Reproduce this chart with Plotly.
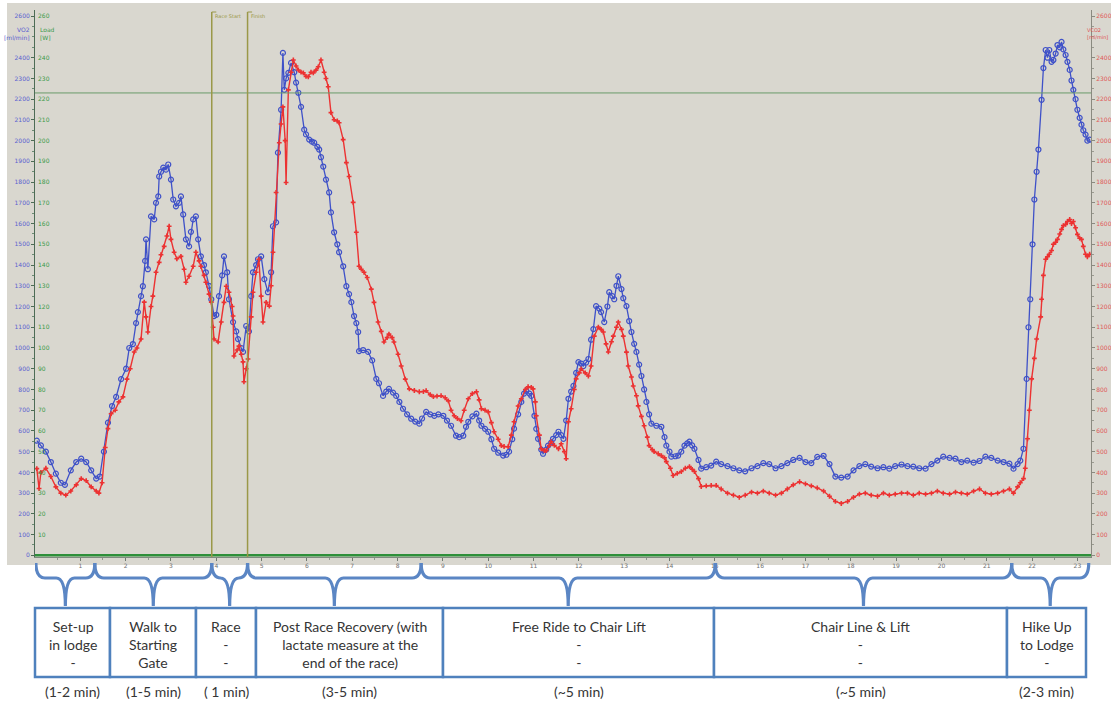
import plotly.graph_objects as go

# ---- breath-by-breath gas exchange during one ski-race session ----
# time in minutes, VO2 / VCO2 in ml/min
vo2_t = [0.04, 0.13, 0.24, 0.35, 0.46, 0.57, 0.66, 0.79, 0.91, 1.02, 1.13, 1.24, 1.35, 1.43, 1.52, 1.61, 1.70, 1.79,
         1.90, 2.01, 2.08, 2.16, 2.23, 2.27, 2.34, 2.38, 2.43, 2.45, 2.49, 2.56, 2.63, 2.67, 2.72, 2.74, 2.78, 2.83,
         2.89, 2.94, 3.00, 3.05, 3.11, 3.18, 3.22, 3.27, 3.33, 3.40, 3.44, 3.49, 3.55, 3.60, 3.66, 3.73, 3.77, 3.84,
         3.89, 3.95, 4.00, 4.06, 4.13, 4.17, 4.24, 4.28, 4.37, 4.44, 4.48, 4.55, 4.59, 4.66, 4.72, 4.77, 4.81, 4.88,
         4.92, 4.99, 5.06, 5.14, 5.21, 5.25, 5.32, 5.36, 5.43, 5.47, 5.50, 5.54, 5.59, 5.65, 5.72, 5.76, 5.81, 5.87,
         5.94, 5.98, 6.05, 6.11, 6.16, 6.23, 6.27, 6.31, 6.36, 6.42, 6.49, 6.53, 6.60, 6.67, 6.71, 6.80, 6.87, 6.93,
         6.98, 7.04, 7.09, 7.13, 7.15, 7.24, 7.35, 7.44, 7.53, 7.59, 7.68, 7.75, 7.81, 7.90, 7.97, 8.04, 8.12, 8.21,
         8.30, 8.39, 8.48, 8.54, 8.63, 8.72, 8.81, 8.90, 9.01, 9.09, 9.18, 9.29, 9.36, 9.45, 9.51, 9.56, 9.65, 9.74,
         9.80, 9.85, 9.93, 10.00, 10.07, 10.13, 10.22, 10.33, 10.40, 10.46, 10.53, 10.57, 10.66, 10.73, 10.79, 10.84,
         10.91, 10.95, 11.02, 11.06, 11.10, 11.17, 11.21, 11.28, 11.32, 11.39, 11.43, 11.50, 11.55, 11.61, 11.66,
         11.72, 11.77, 11.83, 11.88, 11.94, 11.99, 12.05, 12.10, 12.16, 12.21, 12.27, 12.32, 12.38, 12.45, 12.49,
         12.56, 12.63, 12.67, 12.74, 12.78, 12.83, 12.87, 12.94, 12.98, 13.05, 13.11, 13.16, 13.22, 13.27, 13.33,
         13.38, 13.44, 13.49, 13.55, 13.60, 13.71, 13.82, 13.89, 13.93, 14.00, 14.04, 14.13, 14.19, 14.26, 14.33,
         14.39, 14.44, 14.50, 14.55, 14.64, 14.70, 14.81, 14.92, 15.03, 15.14, 15.28, 15.41, 15.54, 15.67, 15.81,
         15.94, 16.07, 16.20, 16.34, 16.47, 16.60, 16.73, 16.87, 17.00, 17.13, 17.26, 17.40, 17.53, 17.66, 17.79,
         17.93, 18.06, 18.19, 18.32, 18.45, 18.59, 18.72, 18.85, 18.98, 19.12, 19.25, 19.38, 19.51, 19.65, 19.78,
         19.91, 20.04, 20.18, 20.31, 20.44, 20.57, 20.71, 20.84, 20.97, 21.10, 21.24, 21.37, 21.50, 21.59, 21.68,
         21.74, 21.81, 21.88, 21.92, 21.96, 22.01, 22.05, 22.10, 22.14, 22.21, 22.25, 22.30, 22.34, 22.38, 22.43,
         22.47, 22.52, 22.56, 22.61, 22.65, 22.69, 22.74, 22.78, 22.83, 22.87, 22.91, 22.96, 23.00, 23.05, 23.09,
         23.13, 23.18, 23.22, 23.27]
vo2 = [553, 530, 500, 450, 394, 350, 340, 410, 450, 466, 450, 410, 370, 380, 500, 640, 720, 764,
       850, 900, 1000, 1019, 1120, 1173, 1250, 1298, 1420, 1524, 1380, 1635, 1620, 1700, 1731, 1827, 1850, 1870,
       1860, 1885, 1812, 1716, 1683, 1700, 1731, 1644, 1524, 1490, 1560, 1620, 1635, 1524, 1442, 1400, 1365, 1300,
       1235, 1154, 1160, 1250, 1350, 1442, 1365, 1235, 1125, 1080, 1043, 1000, 981, 1106, 1080, 1250, 1365, 1400,
       1428, 1442, 1332, 1269, 1365, 1587, 1606, 1942, 2149, 2423, 2245, 2300, 2327, 2375, 2330, 2280, 2231, 2163,
       2053, 2030, 2005, 1995, 1990, 1970, 1957, 1920, 1875, 1812, 1750, 1654, 1558, 1500, 1462, 1394, 1298, 1260,
       1221, 1154, 1120, 1077, 985, 990, 981, 940, 851, 830, 769, 790, 803, 785, 769, 740, 707, 680,
       659, 645, 635, 660, 692, 680, 673, 680, 673, 650, 625, 577, 570, 577, 620, 644, 670, 683,
       650, 625, 610, 596, 560, 514, 495, 481, 485, 500, 560, 611, 680, 740, 780, 793,
       780, 769, 673, 610, 562, 510, 490, 510, 529, 545, 562, 580, 596, 580, 562,
       650, 755, 790, 817, 880, 932, 925, 913, 930, 947, 1040, 1091, 1202, 1190, 1173,
       1125, 1200, 1269, 1250, 1235, 1300, 1346, 1284, 1240, 1202, 1130, 1077, 1020, 981, 920,
       865, 800, 740, 680, 635, 625, 620, 570, 529, 500, 476, 478, 481, 500, 529,
       540, 548, 530, 514, 460, 418, 425, 433, 452, 440, 430, 420, 410, 405, 420,
       430, 445, 440, 420, 430, 445, 460, 470, 450, 445, 475, 480, 440, 380, 375,
       380, 410, 430, 440, 428, 420, 425, 418, 430, 438, 430, 428, 420, 418, 440,
       457, 476, 470, 466, 450, 457, 447, 455, 476, 470, 457, 450, 442, 418, 440,
       457, 514, 851, 1100, 1235, 1500, 1716, 1850, 1957, 2197, 2350, 2437, 2400, 2437, 2380,
       2389, 2420, 2461, 2450, 2476, 2440, 2413, 2380, 2341, 2290, 2245, 2200, 2149, 2110, 2077,
       2050, 2029, 2000, 2005]

vco2_t = [0.04, 0.09, 0.13, 0.24, 0.35, 0.46, 0.57, 0.68, 0.79, 0.91, 1.02, 1.13, 1.24, 1.35, 1.41, 1.48, 1.55, 1.61,
          1.68, 1.77, 1.85, 1.94, 2.03, 2.10, 2.19, 2.25, 2.34, 2.41, 2.45, 2.49, 2.56, 2.60, 2.67, 2.74, 2.78, 2.85,
          2.91, 2.96, 3.00, 3.07, 3.13, 3.22, 3.29, 3.33, 3.40, 3.49, 3.55, 3.62, 3.66, 3.73, 3.77, 3.84, 3.89, 3.93,
          3.95, 4.04, 4.11, 4.17, 4.22, 4.28, 4.35, 4.37, 4.39, 4.46, 4.50, 4.55, 4.59, 4.61, 4.66, 4.70, 4.77, 4.81,
          4.88, 4.94, 4.99, 5.03, 5.10, 5.17, 5.21, 5.25, 5.32, 5.39, 5.43, 5.47, 5.52, 5.54, 5.59, 5.65, 5.70, 5.76,
          5.81, 5.87, 5.92, 5.98, 6.03, 6.09, 6.14, 6.20, 6.25, 6.31, 6.38, 6.42, 6.47, 6.53, 6.60, 6.67, 6.71, 6.80,
          6.87, 6.93, 7.02, 7.09, 7.15, 7.20, 7.26, 7.33, 7.42, 7.48, 7.57, 7.64, 7.70, 7.77, 7.81, 7.88, 7.92, 8.01,
          8.08, 8.17, 8.26, 8.37, 8.48, 8.57, 8.63, 8.72, 8.79, 8.87, 8.96, 9.05, 9.12, 9.18, 9.25, 9.32, 9.40, 9.47,
          9.56, 9.65, 9.74, 9.80, 9.85, 9.93, 10.00, 10.07, 10.13, 10.22, 10.29, 10.35, 10.44, 10.51, 10.57, 10.66,
          10.73, 10.82, 10.88, 10.95, 10.99, 11.04, 11.06, 11.13, 11.17, 11.24, 11.28, 11.35, 11.39, 11.46, 11.55,
          11.61, 11.68, 11.72, 11.77, 11.83, 11.90, 11.94, 12.01, 12.05, 12.14, 12.21, 12.27, 12.34, 12.43, 12.49,
          12.54, 12.60, 12.65, 12.72, 12.76, 12.83, 12.87, 12.94, 12.98, 13.05, 13.09, 13.16, 13.20, 13.27, 13.31,
          13.38, 13.44, 13.51, 13.55, 13.62, 13.66, 13.75, 13.82, 13.89, 13.93, 14.02, 14.08, 14.17, 14.26, 14.35,
          14.44, 14.50, 14.55, 14.64, 14.70, 14.81, 14.92, 15.03, 15.14, 15.28, 15.41, 15.54, 15.67, 15.81, 15.94,
          16.07, 16.20, 16.34, 16.47, 16.60, 16.73, 16.87, 17.00, 17.13, 17.26, 17.40, 17.53, 17.66, 17.79, 17.93,
          18.06, 18.19, 18.32, 18.45, 18.59, 18.72, 18.85, 18.98, 19.12, 19.25, 19.38, 19.51, 19.65, 19.78, 19.91,
          20.04, 20.18, 20.31, 20.44, 20.57, 20.71, 20.84, 20.97, 21.10, 21.24, 21.37, 21.50, 21.59, 21.68, 21.74,
          21.81, 21.85, 21.90, 21.94, 21.99, 22.05, 22.10, 22.19, 22.21, 22.25, 22.30, 22.34, 22.38, 22.43, 22.47,
          22.52, 22.56, 22.61, 22.65, 22.69, 22.74, 22.78, 22.83, 22.87, 22.91, 22.96, 23.00, 23.05, 23.09, 23.13,
          23.18, 23.22, 23.27]
vco2 = [418, 322, 400, 420, 380, 330, 300, 290, 310, 340, 370, 360, 330, 310, 300, 350, 520, 611,
        683, 700, 740, 764, 850, 900, 981, 1000, 1043, 1221, 1150, 1077, 1200, 1250, 1365, 1413, 1450, 1490,
        1540, 1587, 1524, 1462, 1430, 1442, 1380, 1317, 1346, 1394, 1462, 1420, 1394, 1350, 1317, 1260, 1221, 1100,
        1043, 1029, 1125, 1220, 1298, 1269, 1200, 1154, 961, 990, 1009, 970, 933, 837, 900, 947, 1150, 1269,
        1365, 1428, 1250, 1125, 1220, 1202, 1300, 1462, 1750, 1990, 2080, 2163, 2000, 1798, 2245, 2330, 2389, 2360,
        2341, 2330, 2327, 2310, 2308, 2330, 2327, 2340, 2356, 2389, 2330, 2300, 2260, 2135, 2101, 2095, 2086, 2005,
        1894, 1827, 1702, 1558, 1394, 1380, 1365, 1340, 1284, 1220, 1125, 1080, 1029, 1050, 1067, 1050, 1029, 970,
        913, 850, 803, 795, 789, 790, 794, 775, 765, 768, 770, 760, 745, 700, 673, 660, 649, 700,
        755, 780, 789, 750, 707, 700, 692, 640, 596, 560, 529, 525, 524, 580, 644, 720,
        755, 800, 813, 810, 803, 740, 673, 580, 514, 505, 505, 530, 548, 530, 514,
        538, 500, 466, 644, 707, 800, 851, 880, 899, 880, 865, 913, 1057, 1101, 1090,
        1077, 1020, 981, 1030, 1057, 1100, 1125, 1090, 1057, 980, 913, 860, 817, 770, 721,
        670, 625, 570, 529, 510, 500, 490, 481, 470, 452, 420, 385, 395, 404, 420,
        428, 415, 404, 370, 332, 335, 337, 337, 320, 300, 290, 280, 290, 305, 300,
        310, 300, 290, 300, 320, 340, 355, 345, 335, 325, 310, 285, 260, 250, 260,
        280, 295, 300, 290, 285, 300, 290, 295, 300, 300, 290, 300, 295, 300, 310,
        300, 295, 305, 300, 295, 310, 320, 300, 295, 300, 310, 320, 300, 330, 350,
        370, 420, 562, 700, 851, 950, 1043, 1150, 1235, 1350, 1428, 1440, 1452, 1470, 1500,
        1510, 1524, 1550, 1572, 1590, 1596, 1610, 1620, 1600, 1610, 1580, 1548, 1530, 1524, 1490,
        1452, 1440, 1452]

# ergometer load stays at zero outdoors
load_t = [0.0, 23.3]
load_w = [0, 0]

race_start, race_finish = 3.9, 4.69
ref_level = 2230

# activity phases: brace edges (min), box labels and durations
phase_edges = [0.02, 1.32, race_start, race_finish, 8.52, 15.01, 21.55, 23.25]
phase_labels = ["Set-up<br>in lodge<br>-", "Walk to<br>Starting<br>Gate", "Race<br>-<br>-",
                "Post Race Recovery (with<br>lactate measure at the<br>end of the race)",
                "Free Ride to Chair Lift<br>-<br>-", "Chair Line &amp; Lift<br>-<br>-", "Hike Up<br>to Lodge<br>-"]
phase_durations = ["(1-2 min)", "(1-5 min)", "( 1 min)", "(3-5 min)", "(~5 min)", "(~5 min)", "(2-3 min)"]

vo2_ticks = [v for v in range(0, 2700, 100) if v != 2500]
load_ticks = [v for v in range(0, 270, 10) if v != 250]

# ---- page geometry ----
W, H = 1111, 702
ML, MR, MT, MB = 35, 20, 10, 145
PW, PH = W - ML - MR, H - MT - MB


def px(x):
    return (x - ML) / PW


def py(y):
    return (H - MB - y) / PH


BG = "#d9d7cf"
BLUE = "#3f51c8"
RED = "#ec3232"
BOX = "#4f81bd"
BRACE = "#5b86c4"
OLIVE = "#9a9848"
TXT = "#353535"

fig = go.Figure()
fig.add_trace(go.Scatter(x=load_t, y=load_w, yaxis="y3", mode="lines",
                         line=dict(color="#2e8f3a", width=2.5), showlegend=False))
fig.add_trace(go.Scatter(x=vco2_t, y=vco2, yaxis="y2", mode="lines+markers",
                         line=dict(color=RED, width=1.4),
                         marker=dict(symbol="cross", size=4, color=RED), showlegend=False))
fig.add_trace(go.Scatter(x=vo2_t, y=vo2, mode="lines+markers",
                         line=dict(color=BLUE, width=1.3),
                         marker=dict(symbol="circle-open", size=5, color=BLUE, line=dict(width=1.2)),
                         showlegend=False))

shapes = []
# grey chart panel
shapes.append(dict(type="rect", xref="paper", yref="paper", x0=px(7), x1=px(W), y0=py(565), y1=py(3),
                   fillcolor=BG, line=dict(width=0), layer="below"))
# reference level
shapes.append(dict(type="line", xref="paper", yref="y", x0=0, x1=1, y0=ref_level, y1=ref_level,
                   line=dict(color="#6a9c6a", width=1)))
# race markers
for xm in (race_start, race_finish):
    shapes.append(dict(type="line", xref="x", yref="paper", x0=xm, x1=xm, y0=0, y1=py(12),
                       line=dict(color=OLIVE, width=1.5)))
    shapes.append(dict(type="line", xref="x", yref="paper", x0=xm, x1=xm + 0.1, y0=py(12), y1=py(12),
                       line=dict(color=OLIVE, width=1)))

# braces under the time axis
yt, yb, ys = py(563), py(578), py(606)
dx = 0.2
for a, b in zip(phase_edges[:-1], phase_edges[1:]):
    m = (a + b) / 2
    path = (f"M {a},{yt} Q {a},{yb} {a + dx},{yb} L {m - dx},{yb} Q {m},{yb} {m},{ys} "
            f"M {m},{ys} Q {m},{yb} {m + dx},{yb} L {b - dx},{yb} Q {b},{yb} {b},{yt}")
    shapes.append(dict(type="path", xref="x", yref="paper", path=path,
                       line=dict(color=BRACE, width=3.2)))

# phase table
box_edges = [35, 110, 196, 256, 443, 714, 1007, 1086]
annotations = []
for i in range(len(phase_labels)):
    x0, x1 = box_edges[i], box_edges[i + 1]
    shapes.append(dict(type="rect", xref="paper", yref="paper", x0=px(x0), x1=px(x1), y0=py(677), y1=py(608),
                       line=dict(color=BOX, width=2.5), fillcolor="white"))
    cx = px((x0 + x1) / 2)
    annotations.append(dict(xref="paper", yref="paper", x=cx, y=py(644), text=phase_labels[i],
                            showarrow=False, xanchor="center", yanchor="middle",
                            font=dict(family="Lato", size=14, color=TXT)))
    annotations.append(dict(xref="paper", yref="paper", x=cx, y=py(691), text=phase_durations[i],
                            showarrow=False, xanchor="center", yanchor="middle",
                            font=dict(family="Lato", size=14, color=TXT)))

# axis captions
annotations += [
    dict(xref="paper", yref="paper", x=px(32), y=py(34), text="VO2<br>[ml/min]", showarrow=False,
         xanchor="right", yanchor="middle", align="right", font=dict(size=6, color="#5a60d0")),
    dict(xref="paper", yref="paper", x=px(38), y=py(34), text="Load<br>[W]", showarrow=False,
         xanchor="left", yanchor="middle", align="left", font=dict(size=6, color="#3a9a4a")),
    dict(xref="paper", yref="paper", x=px(1110), y=py(34), text="VCO2<br>[ml/min]", showarrow=False,
         xanchor="right", yanchor="middle", align="left", font=dict(size=5, color="#e05050")),
    dict(xref="x", yref="paper", x=race_start + 0.03, y=py(16), text="Race Start", showarrow=False,
         xanchor="left", yanchor="middle", font=dict(size=5, color=OLIVE)),
    dict(xref="x", yref="paper", x=race_finish + 0.03, y=py(16), text="Finish", showarrow=False,
         xanchor="left", yanchor="middle", font=dict(size=5, color=OLIVE)),
]

YR = [-8, 2630]
fig.update_layout(
    width=W, height=H, margin=dict(l=ML, r=MR, t=MT, b=MB),
    paper_bgcolor="white", plot_bgcolor="rgba(0,0,0,0)",
    font=dict(family="DejaVu Sans"),
    shapes=shapes, annotations=annotations,
    xaxis=dict(range=[0, 23.3], dtick=1, showgrid=False, zeroline=False, showline=True,
               linecolor="#7f8a7f", ticks="outside", ticklen=3, tickcolor="#6f7a6f",
               minor=dict(dtick=0.5, ticks="outside", ticklen=2, tickcolor="#8f9a8f"),
               tickfont=dict(size=6, color="#707070"), automargin=False),
    yaxis=dict(range=YR, tickvals=vo2_ticks, showgrid=False, zeroline=False, showline=True,
               linecolor="#4d6b55", ticks="outside", ticklen=3, tickcolor="#4d6b55",
               minor=dict(dtick=50, ticks="outside", ticklen=2, tickcolor="#6d8b75"),
               tickfont=dict(size=6, color="#5a60d0"), automargin=False),
    yaxis2=dict(range=YR, tickvals=vo2_ticks, overlaying="y", side="right", anchor="x",
                showgrid=False, zeroline=False, showline=True, linecolor="#8a8a80",
                ticks="outside", ticklen=3, tickcolor="#8a8a80",
                minor=dict(dtick=50, ticks="outside", ticklen=2, tickcolor="#9a9a90"),
                tickfont=dict(size=6, color="#e05a5a"), automargin=False),
    yaxis3=dict(range=[YR[0] / 10, YR[1] / 10], tickvals=load_ticks, overlaying="y", side="left", anchor="x",
                ticklabelposition="inside", showgrid=False, zeroline=False, showline=False, ticks="",
                tickfont=dict(size=6, color="#3a9a4a"), automargin=False),
)

fig.write_html("out.html")
